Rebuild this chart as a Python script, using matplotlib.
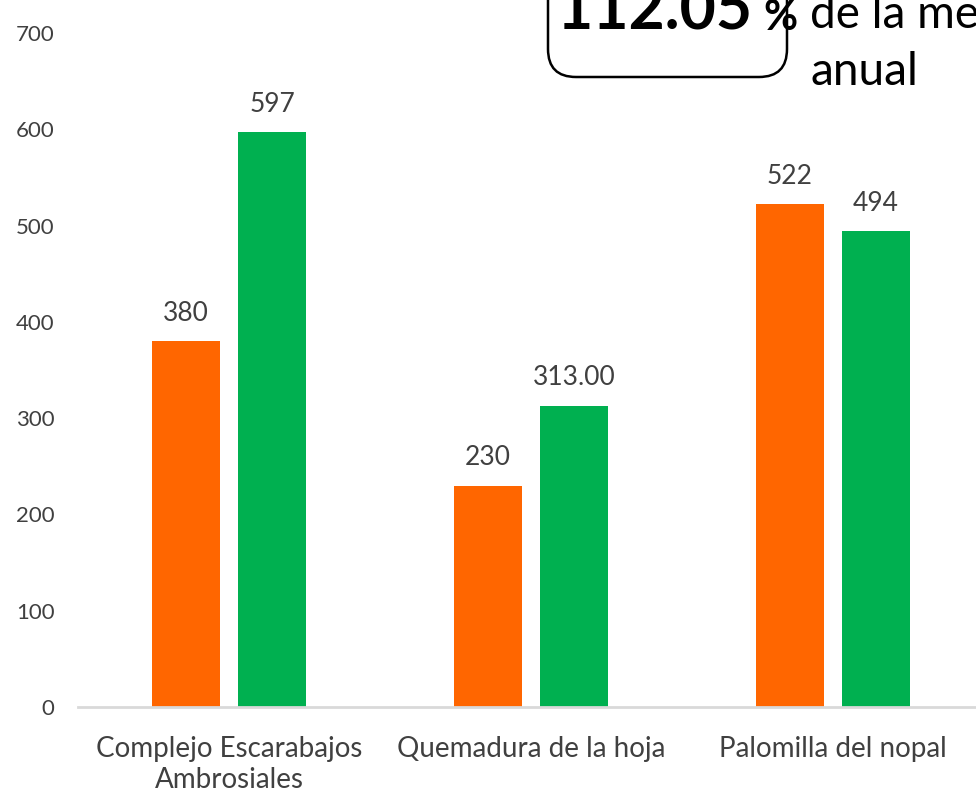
import matplotlib
matplotlib.use("Agg")
import matplotlib.pyplot as plt
import numpy as np
from matplotlib.patches import FancyBboxPatch

plt.rcParams['font.family'] = ['Lato', 'DejaVu Sans']

categorias = ["Complejo Escarabajos\nAmbrosiales", "Quemadura de la hoja", "Palomilla del nopal"]
serie_naranja = [380, 230, 522]
serie_verde = [597, 313, 494]
etiq_naranja = ["380", "230", "522"]
etiq_verde = ["597", "313.00", "494"]
yticks = [0, 100, 200, 300, 400, 500, 600, 700]

naranja = "#FF6600"
verde = "#00B050"
gris_txt = "#404040"

fig = plt.figure(figsize=(9.76, 7.93), dpi=100)
W, H = 976, 793
ax = fig.add_axes([78 / W, (H - 707) / H, (984 - 78) / W, 674 / H])

x = np.arange(len(categorias))
ancho = 0.225
off = 0.143
b1 = ax.bar(x - off, serie_naranja, ancho, color=naranja)
b2 = ax.bar(x + off, serie_verde, ancho, color=verde)

for barras, etiqs in ((b1, etiq_naranja), (b2, etiq_verde)):
    for b, t in zip(barras, etiqs):
        ax.annotate(t, (b.get_x() + b.get_width() / 2, b.get_height()),
                    xytext=(0, 11), textcoords="offset points",
                    ha="center", va="bottom", fontsize=19, color=gris_txt)

ax.set_xlim(-0.5, 2.5)
ax.set_ylim(0, 700)
ax.set_yticks(yticks)
ax.set_xticks(x)
ax.set_xticklabels(categorias, fontsize=20, color=gris_txt, linespacing=1.25)
ax.tick_params(axis="y", labelsize=16, colors=gris_txt, length=0, pad=17)
ax.tick_params(axis="x", length=0, pad=21)
for s in ("top", "right", "left"):
    ax.spines[s].set_visible(False)
ax.spines["bottom"].set_color("#D9D9D9")
ax.spines["bottom"].set_linewidth(2)

# recuadro de la anotacion (coordenadas en pixeles)
ov = fig.add_axes([0, 0, 1, 1])
ov.set_xlim(0, W)
ov.set_ylim(H, 0)
ov.axis("off")
ov.patch.set_alpha(0)
caja = FancyBboxPatch((548, -60), 239, 137, boxstyle="round,pad=0,rounding_size=28",
                      fc="white", ec="black", lw=1.8)
ov.add_patch(caja)
ov.text(557, 30, "112.05", fontsize=45, fontweight="bold", ha="left", va="baseline", color="black")
ov.text(763, 30, "%", fontsize=30, fontweight="bold", ha="left", va="baseline", color="black")
ov.text(810, 28, "de la media", fontsize=33, ha="left", va="baseline", color="black")
ov.text(810, 85, "anual", fontsize=33, ha="left", va="baseline", color="black")

fig.savefig("out.png", dpi=100)
